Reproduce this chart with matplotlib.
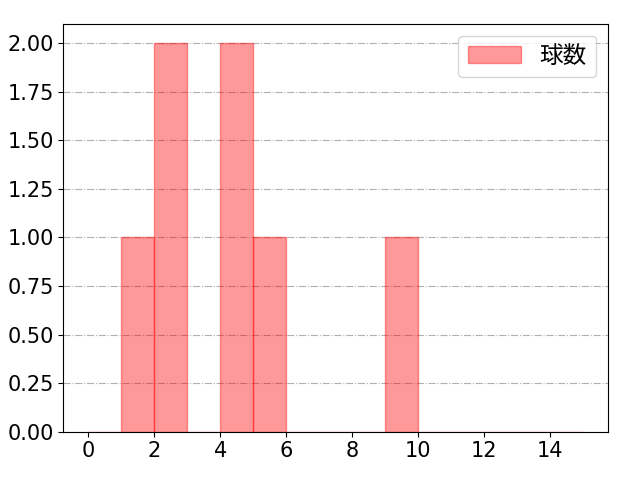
import matplotlib
matplotlib.use("Agg")
import matplotlib.pyplot as plt
import numpy as np

plt.rcParams['font.family'] = ['DejaVu Sans', 'Noto Sans CJK JP']
plt.rcParams['font.size'] = 15

values = [1, 2, 2, 4, 4, 5, 9]
bins = list(range(0, 16))
label = "球数"

fig = plt.figure(figsize=(6.4, 4.8), dpi=100)
ax = fig.add_axes([0.0992, 0.1006, 0.851, 0.85])
ax.hist(values, bins=bins, color='red', alpha=0.4, edgecolor='red', label=label)
ax.grid(axis='y', linestyle='-.', color='#b0b0b0')
ax.set_axisbelow(True)
ax.set_xticks(range(0, 16, 2))
ax.yaxis.set_major_formatter(matplotlib.ticker.FormatStrFormatter('%.2f'))
ax.legend(loc='upper right', prop={'family': ['Noto Sans CJK JP'], 'size': 17}, handlelength=2.25)
fig.savefig("out.png")
